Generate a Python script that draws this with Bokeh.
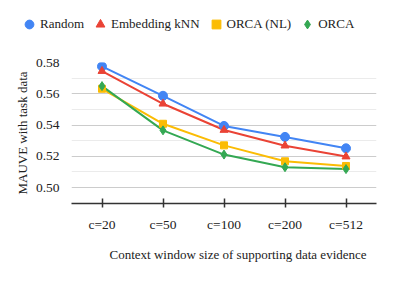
from bokeh.plotting import figure
from bokeh.models import Legend, LegendItem, Range1d, FactorRange, FixedTicker, NumeralTickFormatter, Title
from bokeh.embed import file_html
from bokeh.resources import INLINE

categories = ["c=20", "c=50", "c=100", "c=200", "c=512"]
random_vals = [0.5775, 0.5587, 0.5394, 0.5324, 0.5251]
knn_vals = [0.5745, 0.5536, 0.5368, 0.5268, 0.5198]
orca_nl_vals = [0.5632, 0.5408, 0.5270, 0.5168, 0.5138]
orca_vals = [0.5649, 0.5366, 0.5211, 0.5130, 0.5118]
series_names = ["Random", "Embedding kNN", "ORCA (NL)", "ORCA"]
y_ticks = [0.50, 0.52, 0.54, 0.56, 0.58]
y_minor = [0.51, 0.53, 0.55, 0.57]

FONT = "Liberation Serif"
colors = ["#4285F4", "#EA4335", "#FBBC04", "#34A853"]
markers = ["circle", "triangle", "square", "diamond"]
sizes = [9, 8, 7, 9]

p = figure(width=383, height=232, x_range=FactorRange(*categories, range_padding=0),
           y_range=Range1d(0.4898, 0.58), output_backend="svg", toolbar_location=None,
           min_border_left=71, min_border_right=7, min_border_top=22, min_border_bottom=69)
p.outline_line_color = None
p.background_fill_color = "white"

all_vals = [random_vals, knn_vals, orca_nl_vals, orca_vals]
for vals, c in zip(all_vals, colors):
    p.line(categories, vals, line_color=c, line_width=2)
for vals, c, m, s in zip(all_vals, colors, markers, sizes):
    p.scatter(categories, vals, marker=m, size=s, fill_color=c, line_color=c)

# grid
p.xgrid.grid_line_color = None
p.ygrid.ticker = FixedTicker(ticks=y_ticks, minor_ticks=y_minor)
p.ygrid.grid_line_color = "#cccccc"
p.ygrid.grid_line_width = 1
p.ygrid.minor_grid_line_color = "#ebebeb"
p.ygrid.minor_grid_line_width = 1

# y axis
p.yaxis.ticker = FixedTicker(ticks=y_ticks)
p.yaxis.formatter = NumeralTickFormatter(format="0.00")
p.yaxis.axis_line_color = None
p.yaxis.major_tick_line_color = None
p.yaxis.minor_tick_line_color = None
p.yaxis.major_label_text_font = FONT
p.yaxis.major_label_text_font_size = "13.5px"
p.yaxis.major_label_text_color = "#222222"
p.yaxis.major_label_standoff = 6
p.yaxis.axis_label = "MAUVE with task data"
p.yaxis.axis_label_text_font = FONT
p.yaxis.axis_label_text_font_size = "13px"
p.yaxis.axis_label_text_font_style = "normal"
p.yaxis.axis_label_text_color = "#222222"
p.yaxis.axis_label_standoff = 3

# x axis
p.xaxis.axis_line_color = "#333333"
p.xaxis.axis_line_width = 1.5
p.xaxis.major_tick_line_color = "#333333"
p.xaxis.major_tick_line_width = 1.5
p.xaxis.major_tick_in = 5
p.xaxis.major_tick_out = 4
p.xaxis.major_label_text_font = FONT
p.xaxis.major_label_text_font_size = "13.5px"
p.xaxis.major_label_text_color = "#222222"
p.xaxis.major_label_standoff = 9

xtitle = Title(text="Context window size of supporting data evidence", align="left", offset=38,
               text_font=FONT, text_font_size="13px", text_font_style="normal",
               text_color="#222222", standoff=20)
p.add_layout(xtitle, "below")

# legend strip
lg = figure(width=383, height=40, output_backend="svg", toolbar_location=None,
            x_range=Range1d(0, 1), y_range=Range1d(0, 1),
            x_axis_location=None, y_axis_location=None,
            min_border_left=0, min_border_right=0, min_border_top=0, min_border_bottom=0)
lg.outline_line_color = None
lg.xgrid.grid_line_color = None
lg.ygrid.grid_line_color = None
items = []
for n, c, m, s in zip(series_names, colors, markers, sizes):
    r = lg.scatter(x=[-5], y=[-5], marker=m, size=s, fill_color=c, line_color=c)
    items.append(LegendItem(label=n, renderers=[r]))
legend = Legend(items=items, orientation="horizontal", location=(18, 5),
                label_text_font=FONT, label_text_font_size="13px", label_text_color="#222222",
                glyph_width=22, glyph_height=22, label_standoff=0, spacing=5,
                padding=0, margin=0, border_line_color=None, background_fill_alpha=0)
lg.add_layout(legend, "center")

open("out.html", "w").write(file_html([lg, p], INLINE))
